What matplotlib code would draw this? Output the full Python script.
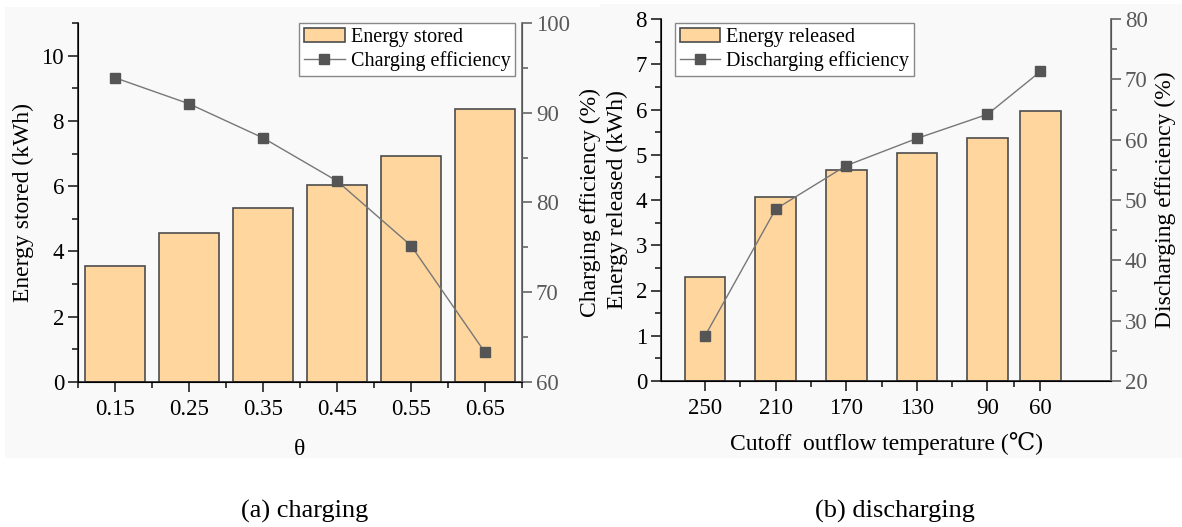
import matplotlib
matplotlib.use('Agg')
import matplotlib.pyplot as plt
from matplotlib.patches import Rectangle
from matplotlib.ticker import FixedLocator, MultipleLocator

plt.rcParams['font.family'] = ['Liberation Serif', 'DejaVu Serif']

# (a) charging
theta_labels = ['0.15', '0.25', '0.35', '0.45', '0.55', '0.65']
energy_stored = [3.56, 4.58, 5.33, 6.04, 6.91, 8.36]
charging_eff = [93.9, 91.0, 87.2, 82.4, 75.2, 63.3]

# (b) discharging
cutoff_temp = [250, 210, 170, 130, 90, 60]
energy_released = [2.30, 4.06, 4.66, 5.03, 5.37, 5.96]
discharging_eff = [27.5, 48.5, 55.7, 60.2, 64.2, 71.3]

BAR_FACE = '#FFD69E'
BAR_EDGE = '#4d4d4d'
LINE_COLOR = '#777777'
MARKER_COLOR = '#555555'
RIGHT_COLOR = '#666666'
TICK_FS = 16.5
LABEL_FS = 17
LEGEND_FS = 14.5


def style_axes(ax, ax2):
    ax.spines['top'].set_visible(False)
    ax2.spines['top'].set_visible(False)
    for s in ['left', 'bottom']:
        ax.spines[s].set_linewidth(1.2)
        ax.spines[s].set_color('#222222')
    ax2.spines['right'].set_linewidth(1.2)
    ax2.spines['right'].set_color(RIGHT_COLOR)
    ax.tick_params(which='major', direction='out', length=7, width=1.2,
                   labelsize=TICK_FS, color='#222222', pad=3)
    ax.tick_params(which='minor', direction='out', length=4, width=1.2,
                   color='#222222')
    ax.tick_params(axis='x', which='major', pad=5)
    ax2.tick_params(which='major', direction='out', length=7, width=1.2,
                    labelsize=TICK_FS, color=RIGHT_COLOR, labelcolor='#595959', pad=3)
    ax2.tick_params(which='minor', direction='out', length=4, width=1.2,
                    color=RIGHT_COLOR)


fig = plt.figure(figsize=(11.82, 5.27), dpi=100)

# light panel backgrounds
fig.patches.append(Rectangle((5 / 1182, 69 / 527), 595 / 1182, 451 / 527,
                             transform=fig.transFigure, facecolor='#f9f9f9',
                             edgecolor='none', zorder=-10))
fig.patches.append(Rectangle((600 / 1182, 69 / 527), 582 / 1182, 454 / 527,
                             transform=fig.transFigure, facecolor='#f9f9f9',
                             edgecolor='none', zorder=-10))

# ---------------- (a) charging ----------------
ax1 = fig.add_axes([78 / 1182, 145 / 527, 444 / 1182, 359 / 527])
ax1.patch.set_alpha(0)
xpos = list(range(len(theta_labels)))
bars1 = ax1.bar(xpos, energy_stored, width=0.8, color=BAR_FACE,
                edgecolor=BAR_EDGE, linewidth=1.2, label='Energy stored')
ax1.set_xlim(-0.5, 5.5)
ax1.set_ylim(0, 11)
ax1.set_xticks(xpos)
ax1.set_xticklabels(theta_labels)
ax1.xaxis.set_minor_locator(FixedLocator([p + 0.5 for p in range(-1, 6)]))
ax1.yaxis.set_major_locator(MultipleLocator(2))
ax1.yaxis.set_minor_locator(MultipleLocator(1))
ax1.set_xlabel('θ', fontsize=LABEL_FS)
ax1.xaxis.set_label_coords(0.5, -0.158)
ax1.set_ylabel('Energy stored (kWh)', fontsize=LABEL_FS, va='center')
ax1.yaxis.set_label_coords(-0.124, 0.5)

ax1b = ax1.twinx()
line1, = ax1b.plot(xpos, charging_eff, color=LINE_COLOR, linewidth=1.0,
                   marker='s', markersize=6.5, markerfacecolor=MARKER_COLOR,
                   markeredgecolor=MARKER_COLOR, label='Charging efficiency')
ax1b.set_ylim(60, 100)
ax1b.yaxis.set_major_locator(MultipleLocator(10))
ax1b.yaxis.set_minor_locator(MultipleLocator(5))
ax1b.set_ylabel('Charging efficiency (%)', fontsize=LABEL_FS, va='center')
ax1b.yaxis.set_label_coords(1.153, 0.5)
style_axes(ax1, ax1b)

leg1 = ax1b.legend([bars1, line1], ['Energy stored', 'Charging efficiency'],
                   loc='upper right', bbox_to_anchor=(0.985, 1.0), fontsize=LEGEND_FS,
                   frameon=True, fancybox=False, edgecolor='#888888',
                   framealpha=1, facecolor='white', borderpad=0.25,
                   labelspacing=0.2, handlelength=2.0, handletextpad=0.3,
                   borderaxespad=0.0, numpoints=1)
leg1.get_frame().set_linewidth(1.0)

# ---------------- (b) discharging ----------------
ax2 = fig.add_axes([661 / 1182, 146 / 527, 450 / 1182, 362 / 527])
ax2.patch.set_alpha(0)
bars2 = ax2.bar(cutoff_temp, energy_released, width=23, color=BAR_FACE,
                edgecolor=BAR_EDGE, linewidth=1.2, label='Energy released')
ax2.set_xlim(275, 20)
ax2.set_ylim(0, 8)
ax2.set_xticks(cutoff_temp)
ax2.set_xticklabels([str(t) for t in cutoff_temp])
ax2.xaxis.set_minor_locator(FixedLocator([230, 190, 150, 110, 75]))
ax2.yaxis.set_major_locator(MultipleLocator(1))
ax2.yaxis.set_minor_locator(MultipleLocator(0.5))
ax2.set_xlabel('Cutoff  outflow temperature (℃)', fontsize=LABEL_FS)
ax2.xaxis.set_label_coords(0.5, -0.142)
ax2.set_ylabel('Energy released (kWh)', fontsize=LABEL_FS, va='center')
ax2.yaxis.set_label_coords(-0.096, 0.5)

ax2b = ax2.twinx()
line2, = ax2b.plot(cutoff_temp, discharging_eff, color=LINE_COLOR, linewidth=1.0,
                   marker='s', markersize=6.5, markerfacecolor=MARKER_COLOR,
                   markeredgecolor=MARKER_COLOR, label='Discharging efficiency')
ax2b.set_ylim(20, 80)
ax2b.yaxis.set_major_locator(MultipleLocator(10))
ax2b.yaxis.set_minor_locator(MultipleLocator(5))
ax2b.set_ylabel('Discharging efficiency (%)', fontsize=LABEL_FS, va='center')
ax2b.yaxis.set_label_coords(1.122, 0.5)
style_axes(ax2, ax2b)

leg2 = ax2b.legend([bars2, line2], ['Energy released', 'Discharging efficiency'],
                   loc='upper left', bbox_to_anchor=(0.03, 0.99), fontsize=LEGEND_FS,
                   frameon=True, fancybox=False, edgecolor='#888888',
                   framealpha=1, facecolor='white', borderpad=0.25,
                   labelspacing=0.2, handlelength=2.0, handletextpad=0.3,
                   borderaxespad=0.0, numpoints=1)
leg2.get_frame().set_linewidth(1.0)

# captions
fig.text(305 / 1182, 16 / 527, '(a) charging', fontsize=19, ha='center', va='center')
fig.text(895 / 1182, 16 / 527, '(b) discharging', fontsize=19, ha='center', va='center')

fig.savefig('out.png', dpi=100)
